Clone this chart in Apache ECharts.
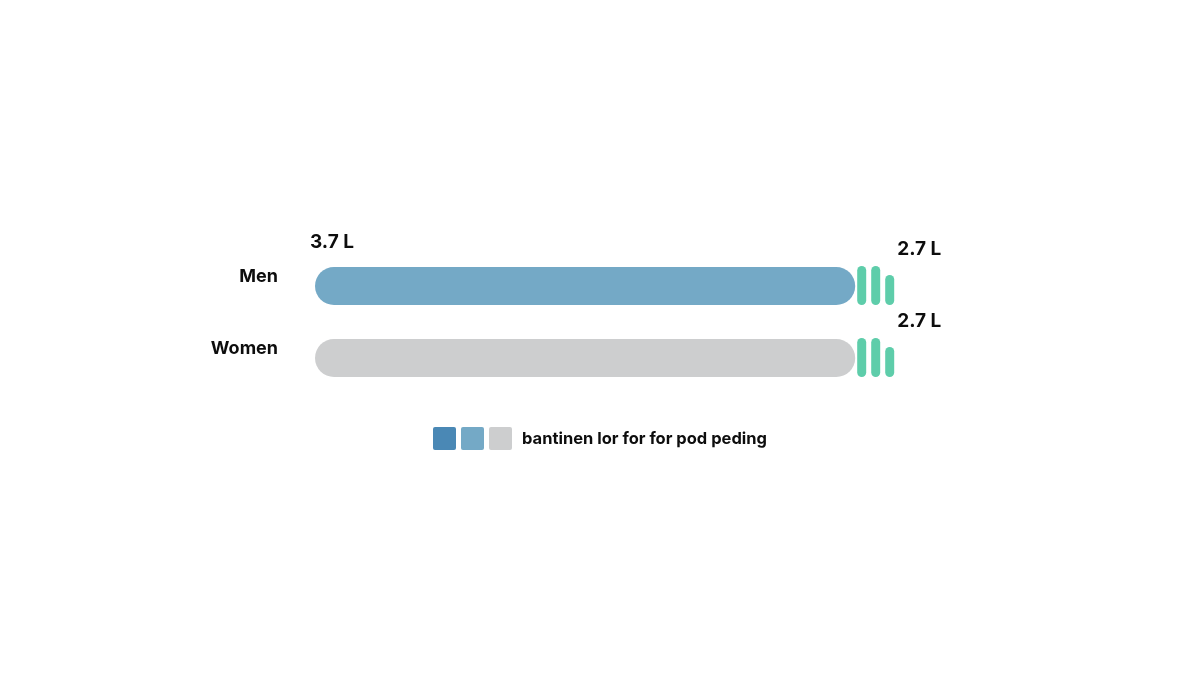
<!DOCTYPE html>
<html>
<head>
<meta charset="utf-8">
<script src="https://cdn.jsdelivr.net/npm/echarts@6/dist/echarts.min.js"></script>
<style>
  html, body { margin: 0; padding: 0; background: #ffffff; }
  #container { width: 1200px; height: 675px; }
</style>
</head>
<body>
<div id="container"></div>
<script>
// 数据
var categories = ['Men', 'Women'];
var mainValues = [3.7, 3.7];
var startLabels = ['3.7 L', ''];
var endValues = [2.7, 2.7];
var legendText = 'bantinen lor for for pod peding';

var barColors = ['#74a9c6', '#cdcecf'];
var tickColor = '#5ecdaa';
var textColor = '#0d0d0d';
var font = 'Inter, "Liberation Sans", sans-serif';

var myChart = echarts.init(document.getElementById('container'));

var barData = mainValues.map(function (v, i) {
    return {
        value: v,
        itemStyle: {color: barColors[i]},
        label: {
            show: startLabels[i] !== '',
            formatter: startLabels[i]
        }
    };
});

var endData = mainValues.map(function (v, i) {
    return [v, i, endValues[i]];
});

var option = {
    backgroundColor: '#ffffff',
    animation: false,
    grid: {left: 315, right: 301, top: 250, height: 144},
    xAxis: {type: 'value', min: 0, max: 4, show: false},
    yAxis: {
        type: 'category',
        data: categories,
        inverse: true,
        axisLine: {show: false},
        axisTick: {show: false},
        axisLabel: {
            margin: 37,
            verticalAlign: 'bottom',
            color: textColor,
            fontFamily: font,
            fontWeight: 'bold',
            fontSize: 18
        }
    },
    series: [
        {
            type: 'bar',
            barWidth: 38,
            itemStyle: {borderRadius: 19},
            label: {
                position: [-5, -25],
                align: 'left',
                verticalAlign: 'middle',
                color: textColor,
                fontFamily: font,
                fontWeight: 'bold',
                fontSize: 19
            },
            data: barData
        },
        {
            type: 'custom',
            encode: {x: 0, y: 1},
            renderItem: function (params, api) {
                var p = api.coord([api.value(0), api.value(1)]);
                var bottom = p[1] + 19;
                var heights = [39, 39, 30];
                var children = heights.map(function (h, k) {
                    return {
                        type: 'rect',
                        shape: {x: p[0] + 2 + k * 14, y: bottom - h, width: 9, height: h, r: 4.5},
                        style: {fill: tickColor}
                    };
                });
                children.push({
                    type: 'text',
                    style: {
                        x: p[0] + 42,
                        y: p[1] - 37,
                        text: api.value(2).toFixed(1) + ' L',
                        fill: textColor,
                        font: 'bold 19px ' + font,
                        textVerticalAlign: 'middle'
                    }
                });
                return {type: 'group', children: children};
            },
            data: endData
        }
    ],
    graphic: [
        {type: 'rect', shape: {x: 433, y: 427, width: 23, height: 23, r: 2}, style: {fill: '#4a88b5'}},
        {type: 'rect', shape: {x: 461, y: 427, width: 23, height: 23, r: 2}, style: {fill: barColors[0]}},
        {type: 'rect', shape: {x: 489, y: 427, width: 23, height: 23, r: 2}, style: {fill: barColors[1]}},
        {
            type: 'text',
            x: 522,
            y: 439,
            style: {
                text: legendText,
                fill: textColor,
                font: 'bold 16.5px ' + font,
                verticalAlign: 'middle'
            }
        }
    ]
};

myChart.setOption(option, true);

window.onresize = function () {
    myChart.resize();
};
</script>
</body>
</html>
